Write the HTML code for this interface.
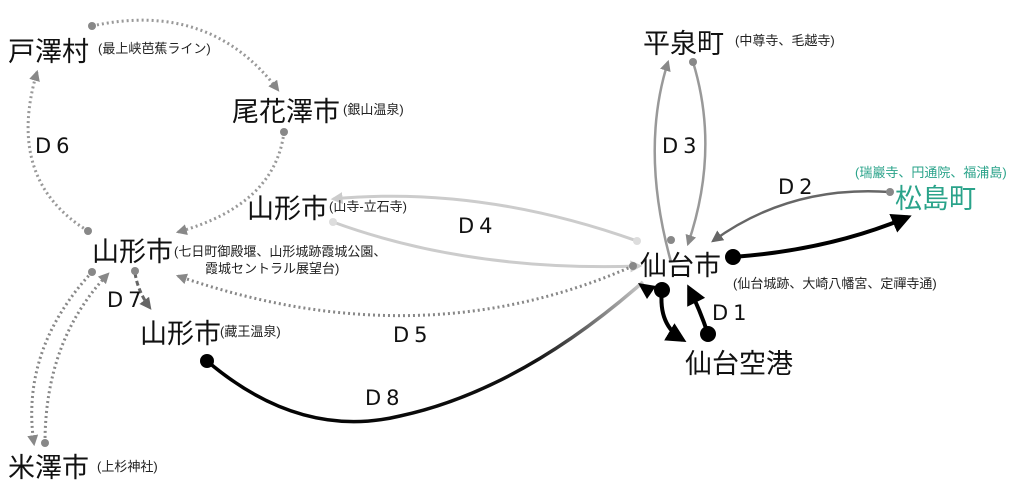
<!DOCTYPE html>
<html><head><meta charset="utf-8"><style>
html,body{margin:0;padding:0;background:#fff;width:1024px;height:491px;overflow:hidden}
svg{display:block}
.big{font-family:"Liberation Sans","Noto Sans CJK JP",sans-serif;font-size:27px;fill:#111}
.sm{font-family:"Liberation Sans","Noto Sans CJK JP",sans-serif;font-size:13px;fill:#222}
.d{font-family:"DejaVu Sans",sans-serif;font-size:21px;fill:#111;letter-spacing:5px}
</style></head><body>
<svg width="1024" height="491" viewBox="0 0 1024 491" xmlns="http://www.w3.org/2000/svg">
<defs>
<marker id="ag" viewBox="0 0 10 10" refX="8" refY="5" markerWidth="11" markerHeight="11" markerUnits="userSpaceOnUse" orient="auto"><path d="M0,0L10,5L0,10z" fill="#888"/></marker>
<marker id="ad" viewBox="0 0 10 10" refX="8" refY="5" markerWidth="12" markerHeight="12" markerUnits="userSpaceOnUse" orient="auto"><path d="M0,0L10,5L0,10z" fill="#666"/></marker>
<marker id="al" viewBox="0 0 10 10" refX="8" refY="5" markerWidth="12" markerHeight="12" markerUnits="userSpaceOnUse" orient="auto"><path d="M0,0L10,5L0,10z" fill="#ccc"/></marker>
<marker id="ab" viewBox="0 0 10 10" refX="8" refY="5" markerWidth="20" markerHeight="20" markerUnits="userSpaceOnUse" orient="auto"><path d="M0,0L10,5L0,10z" fill="#000"/></marker>
<linearGradient id="g8" x1="207" y1="0" x2="645" y2="0" gradientUnits="userSpaceOnUse"><stop offset="0" stop-color="#000"/><stop offset="0.75" stop-color="#111"/><stop offset="1" stop-color="#ccc"/></linearGradient>
</defs>
<g fill="none">
<path d="M92,26 Q210,0 278,90" stroke="#999" stroke-width="3" stroke-dasharray="2 3" marker-end="url(#ag)"/>
<path d="M284,132 Q275,205 178,232" stroke="#999" stroke-width="3" stroke-dasharray="2 3" marker-end="url(#ag)"/>
<path d="M88,231 Q5,180 37,72" stroke="#999" stroke-width="3" stroke-dasharray="2 3" marker-end="url(#ag)"/>
<path d="M92,272 Q20,350 34,444" stroke="#888" stroke-width="3" stroke-dasharray="2 3" marker-end="url(#ag)"/>
<path d="M45,443 Q45,340 108,274" stroke="#888" stroke-width="3" stroke-dasharray="2 3" marker-end="url(#ag)"/>
<path d="M135,273 Q138,292 150,308" stroke="#666" stroke-width="3" stroke-dasharray="5 3" marker-end="url(#ad)"/>
<path d="M637,241 Q480,185 333,199" stroke="#ccc" stroke-width="3" marker-end="url(#al)"/>
<path d="M333,222 Q470,272 640,266" stroke="#ccc" stroke-width="3" marker-end="url(#al)"/>
<path d="M633,266 Q420,360 178,276" stroke="#888" stroke-width="3" stroke-dasharray="2 3" marker-end="url(#ag)"/>
<path d="M207,361 Q300,440 400,416 Q520,390 643,282" stroke="url(#g8)" stroke-width="3.5"/>
<path d="M638,283 L656,286 L647,299z" fill="#000"/>
<path d="M671,262 Q640,150 668,62" stroke="#999" stroke-width="2.5" marker-end="url(#ag)"/>
<path d="M693,62 Q720,150 688,244" stroke="#999" stroke-width="2.5" marker-end="url(#ag)"/>
<path d="M890,192 Q790,185 713,241" stroke="#666" stroke-width="2.5" marker-end="url(#ad)"/>
<path d="M733,257 Q830,250 908,217" stroke="#000" stroke-width="4" marker-end="url(#ab)"/>
<path d="M662,290 Q658,325 683,340" stroke="#000" stroke-width="4" marker-end="url(#ab)"/>
<path d="M708,334 Q700,310 689,288" stroke="#000" stroke-width="4" marker-end="url(#ab)"/>
</g>
<g fill="#888">
<circle cx="92" cy="26" r="4"/><circle cx="284" cy="132" r="4"/><circle cx="88" cy="231" r="4"/>
<circle cx="92" cy="272" r="4"/><circle cx="45" cy="443" r="4"/><circle cx="135" cy="271" r="4"/>
<circle cx="633" cy="266" r="4"/><circle cx="671" cy="240" r="4"/><circle cx="693" cy="62" r="4"/>
<circle cx="890" cy="192" r="4"/>
</g>
<circle cx="333" cy="222" r="4" fill="#ddd"/><circle cx="637" cy="241" r="4" fill="#ddd"/>
<g fill="#000">
<circle cx="207" cy="361" r="7"/><circle cx="733" cy="257" r="8"/><circle cx="662" cy="290" r="8"/><circle cx="708" cy="334" r="8"/>
</g>
<text class="big" x="8" y="61">戸澤村</text><text class="sm" x="98" y="53">(最上峡芭蕉ライン)</text>
<text class="big" x="232" y="121">尾花澤市</text><text class="sm" x="343" y="114">(銀山温泉)</text>
<text class="big" x="247" y="218">山形市</text><text class="sm" x="329" y="211">(山寺-立石寺)</text>
<text class="big" x="92" y="261">山形市</text><text class="sm" x="174" y="256">(七日町御殿堰、山形城跡霞城公園、</text><text class="sm" x="205" y="273">霞城セントラル展望台)</text>
<text class="big" x="140" y="343">山形市</text><text class="sm" x="220" y="336">(藏王温泉)</text>
<text class="big" x="8" y="477">米澤市</text><text class="sm" x="97" y="471">(上杉神社)</text>
<text class="big" x="643" y="53">平泉町</text><text class="sm" x="735" y="45">(中尊寺、毛越寺)</text>
<text class="big" x="640" y="275">仙台市</text><text class="sm" x="733" y="288">(仙台城跡、大崎八幡宮、定禪寺通)</text>
<text class="big" x="895" y="208" style="fill:#2aa38a">松島町</text><text class="sm" x="855" y="177" style="fill:#2aa38a">(瑞巖寺、円通院、福浦島)</text>
<text class="big" x="685" y="373">仙台空港</text>
<text class="d" x="35" y="153">D6</text><text class="d" x="662" y="153">D3</text><text class="d" x="778" y="194">D2</text>
<text class="d" x="458" y="233">D4</text><text class="d" x="107" y="307">D7</text><text class="d" x="393" y="342">D5</text>
<text class="d" x="712" y="320">D1</text><text class="d" x="365" y="405">D8</text>
</svg>
</body></html>
